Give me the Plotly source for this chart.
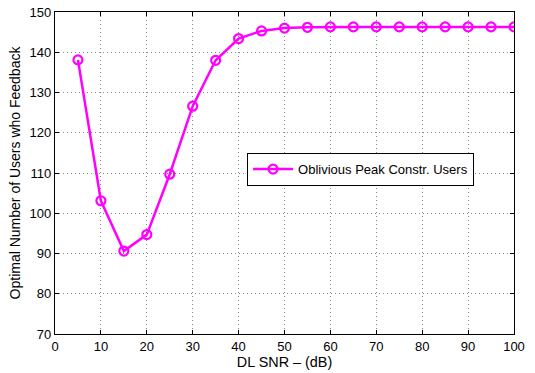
import plotly.graph_objects as go

snr_db = [5, 10, 15, 20, 25, 30, 35, 40, 45, 50, 55, 60, 65, 70, 75, 80, 85, 90, 95, 100]
users = [138.1, 103.1, 90.6, 94.7, 109.7, 126.6, 138.0, 143.4, 145.3, 146.0, 146.2, 146.3,
         146.3, 146.3, 146.3, 146.3, 146.3, 146.3, 146.3, 146.3]
series_name = "Oblivious Peak Constr. Users"
x_ticks = [0, 10, 20, 30, 40, 50, 60, 70, 80, 90, 100]
y_ticks = [70, 80, 90, 100, 110, 120, 130, 140, 150]

fig = go.Figure()
fig.add_trace(go.Scatter(
    x=snr_db, y=users, name=series_name, mode="lines+markers",
    line=dict(color="#ff00ff", width=2.5),
    marker=dict(symbol="circle-open", size=9, color="#ff00ff", line=dict(width=2.2, color="#ff00ff")),
))

font = "Liberation Sans, Arial, Helvetica, sans-serif"
axis_common = dict(
    showline=True, linecolor="black", linewidth=1.2, mirror="allticks",
    ticks="inside", ticklen=4, tickcolor="black",
    showgrid=True, gridcolor="#8a8a8a", griddash="1px,3px", gridwidth=1,
    zeroline=False, tickfont=dict(family=font, size=13, color="black"),
    automargin=False, ticklabeloverflow="allow",
)
fig.update_xaxes(range=[0, 100], tickvals=x_ticks,
                 title=dict(text="DL SNR – (dB)", font=dict(family=font, size=14.4, color="black"), standoff=1),
                 **axis_common)
fig.update_yaxes(range=[70, 150], tickvals=y_ticks,
                 title=dict(text="Optimal Number of Users who Feedback", font=dict(family=font, size=14, color="black"), standoff=5),
                 **axis_common)

fig.update_layout(
    width=535, height=373,
    margin=dict(l=55, r=21, t=12, b=39),
    paper_bgcolor="white", plot_bgcolor="white",
    showlegend=True,
    legend=dict(x=0.418, y=0.511, xanchor="left", yanchor="middle",
                bgcolor="white", bordercolor="black", borderwidth=1.2,
                font=dict(family=font, size=13, color="black"),
                itemwidth=40, tracegroupgap=0),
)

fig.write_html("out.html", config={"displayModeBar": False},
               post_script="document.body.style.margin='0';")
